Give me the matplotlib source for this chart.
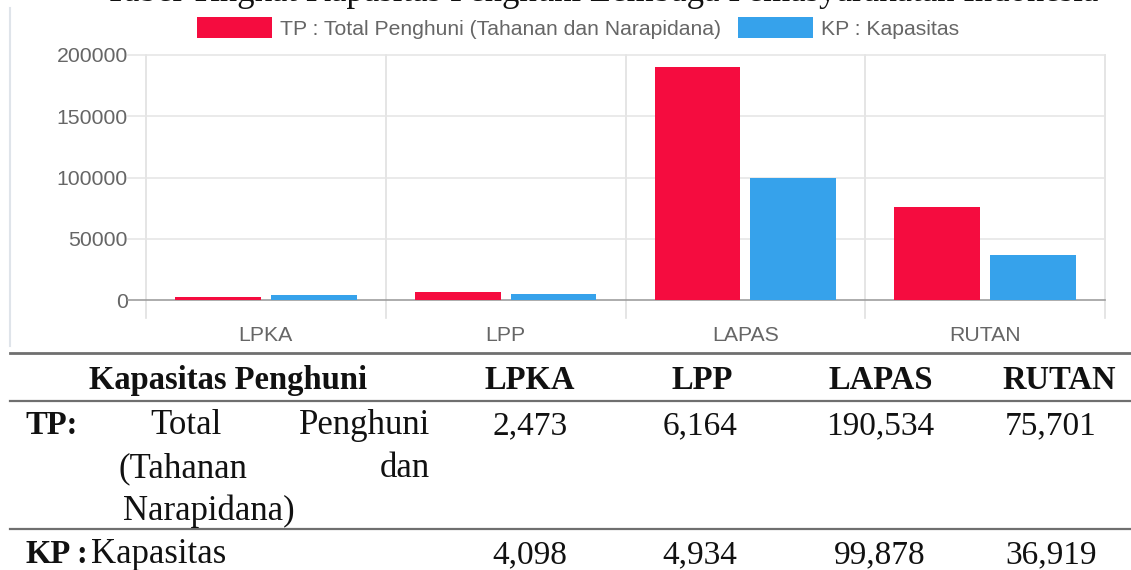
import matplotlib
matplotlib.use("Agg")
import matplotlib.pyplot as plt
from matplotlib.lines import Line2D
import numpy as np

categories = ["LPKA", "LPP", "LAPAS", "RUTAN"]
tp_values = [2473, 6164, 190534, 75701]
kp_values = [4098, 4934, 99878, 36919]
tp_label = "TP : Total Penghuni (Tahanan dan Narapidana)"
kp_label = "KP : Kapasitas"
y_ticks = [0, 50000, 100000, 150000, 200000]
tp_text = ["2,473", "6,164", "190,534", "75,701"]
kp_text = ["4,098", "4,934", "99,878", "36,919"]
caption = "Tabel Tingkat Kapasitas Penghuni Lembaga Pemasyarakatan Indonesia"

RED = "#F50C3F"
BLUE = "#36A2EB"
W, H = 1131, 570

fig = plt.figure(figsize=(W / 100, H / 100), dpi=100)
fig.patch.set_facecolor("white")

def fx(x):
    return x / W

def fy(y):
    return 1 - y / H

ax = fig.add_axes([fx(146), fy(300), fx(1105) - fx(146), fy(55) - fy(300)])
x = np.arange(len(categories))
bw = 0.358
b1 = ax.bar(x - 0.2, tp_values, bw, color=RED, label=tp_label, zorder=3)
b2 = ax.bar(x + 0.2, kp_values, bw, color=BLUE, label=kp_label, zorder=3)
ax.set_xlim(-0.5, len(categories) - 0.5)
ax.set_ylim(0, 200000)
for s in ax.spines.values():
    s.set_visible(False)

# horizontal gridlines extending left as ticks
ytr = ax.get_yaxis_transform()
for t in y_ticks:
    col = "#9e9e9e" if t == 0 else "#e6e6e6"
    ax.plot([-0.019, 1], [t, t], transform=ytr, color=col, lw=1.2, clip_on=False, zorder=2)
# vertical category boundaries extending below
xtr = ax.get_xaxis_transform()
for b in np.arange(-0.5, len(categories) + 0.5, 1.0):
    ax.plot([b, b], [-0.073, 1], transform=xtr, color="#e0e0e0", lw=1.2, clip_on=False, zorder=1)

ax.set_yticks(y_ticks)
ax.set_yticklabels([str(t) for t in y_ticks])
ax.set_xticks(x)
ax.set_xticklabels(categories)
ax.tick_params(axis="y", length=0, pad=13, labelsize=15.3, labelcolor="#666666")
ax.tick_params(axis="x", length=0, pad=19, labelsize=15.3, labelcolor="#666666")
for lab in ax.get_xticklabels() + ax.get_yticklabels():
    lab.set_family("Liberation Sans")

leg = fig.legend(handles=[b1, b2], loc="center", bbox_to_anchor=(fx(578), fy(28)),
                 ncol=2, frameon=False, prop={"family": "Liberation Sans", "size": 15.2},
                 handlelength=3.55, handleheight=1.1, handletextpad=0.38, columnspacing=0.8,
                 borderaxespad=0, borderpad=0)
for t in leg.get_texts():
    t.set_color("#666666")

# left border of the chart image
fig.add_artist(Line2D([fx(10), fx(10)], [fy(8), fy(346)], color="#dfe4ea", lw=1.5))

# caption cut off at top
fig.text(fx(105), fy(1), caption, family="Liberation Serif", size=25, color="#111111",
         ha="left", va="baseline")

# table rules
for yy, lw in [(353, 2.0), (401, 1.6), (529, 1.6)]:
    fig.add_artist(Line2D([fx(10), 1], [fy(yy), fy(yy)], color="#6f6f6f", lw=lw))

SER = "Liberation Serif"
FS_WORD = 25
FS_NUM = 24
FSB = 23.5

def T(xp, yp, s, ha="left", bold=False, size=FS_WORD):
    fig.text(fx(xp), fy(yp), s, family=SER, size=FSB if bold else size, ha=ha, va="baseline",
             weight="bold" if bold else "normal", color="#111111")

col_centers = [530, 702, 881, 1059]
val_centers = [530, 700, 880, 1051]

T(228, 389, "Kapasitas Penghuni", ha="center", bold=True)
for c, name in zip(col_centers, categories):
    T(c, 389, name, ha="center", bold=True)

T(25, 434, "TP:", bold=True)
T(150, 434, "Total")
T(430, 434, "Penghuni", ha="right")
T(119, 477, "(Tahanan")
T(430, 477, "dan", ha="right")
T(123, 520, "Narapidana)")
for c, s in zip(val_centers, tp_text):
    T(c, 434, s, ha="center", size=FS_NUM)

T(25, 563, "KP", bold=True)
T(76, 563, ":", bold=True)
T(91, 563, "Kapasitas")
for c, s in zip(val_centers, kp_text):
    T(c, 563, s, ha="center", size=FS_NUM)

fig.savefig("out.png", dpi=100, facecolor="white")
